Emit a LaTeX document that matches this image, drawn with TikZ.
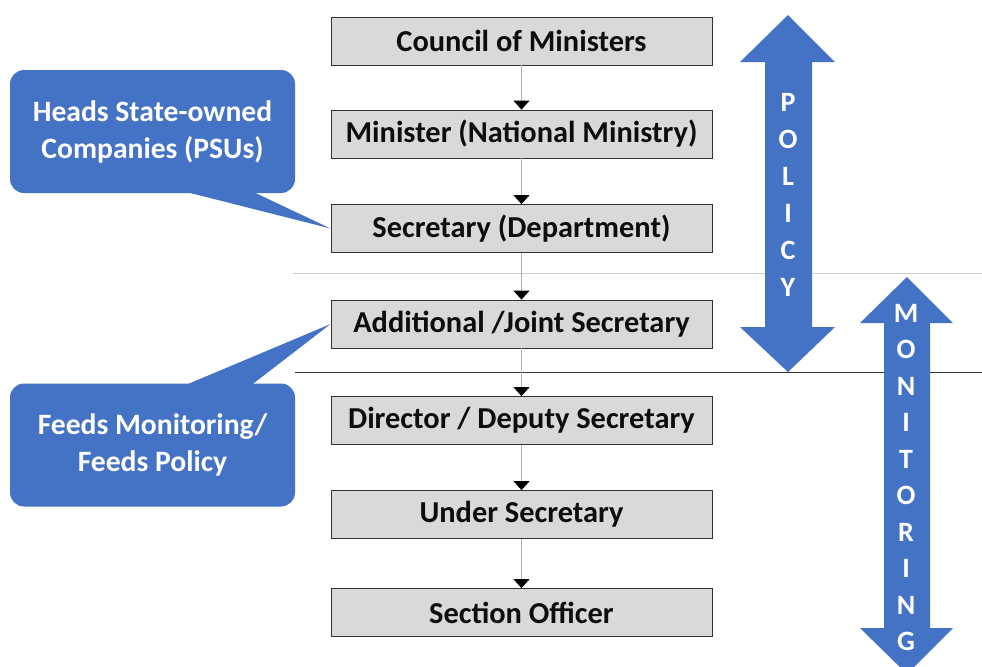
\documentclass[tikz,border=0pt]{standalone}
\usepackage{fontspec}
\setmainfont{Carlito}
\usetikzlibrary{arrows.meta}
\usetikzlibrary{calc}
\usetikzlibrary{positioning}

\definecolor{officeblue}{RGB}{68,114,196}
\definecolor{boxgray}{RGB}{217,217,217}

\tikzset{
  post/.style={draw=black!80, fill=boxgray, minimum width=190.5pt, minimum height=24pt,
    font=\fontsize{15.2}{18}\selectfont\bfseries, text=black!95},
  link/.style={draw=black!30, line width=0.4pt, -{Triangle[black,width=8pt,length=4.5pt]}},
  bubble/.style={fill=officeblue, rounded corners=7pt, text=white, align=center,
    minimum width=142.5pt, minimum height=61.5pt, font=\fontsize{14.8}{18.5}\selectfont\bfseries},
  letter/.style={text=white, inner sep=0pt, font=\fontsize{14}{14}\selectfont\bfseries},
}

\begin{document}
\begin{tikzpicture}[x=0.5pt, y=-0.5pt]
\useasboundingbox (0,0) rectangle (982,666);

% separators
\draw [black!20] (293,273) -- (982,273);
\draw [black!80] (295,372) -- (982,372);

% ranks
\node [post] (council) at (521.5,41) {Council of Ministers};
\node [post] (minister) at (521.5,134) {Minister (National Ministry)};
\node [post] (secretary) at (521.5,228.5) {Secretary (Department)};
\node [post] (joint) at (521.5,324) {Additional /Joint Secretary};
\node [post] (director) at (521.5,420.5) {Director / Deputy Secretary};
\node [post] (under) at (521.5,514.5) {Under Secretary};
\node [post] (officer) at (521.5,612.5) {Section Officer};

\draw [link] (council) -- (minister);
\draw [link] (minister) -- (secretary);
\draw [link] (secretary) -- (joint);
\draw [link] (joint) -- (director);
\draw [link] (director) -- (under);
\draw [link] (under) -- (officer);

% big arrows
\fill [officeblue] (788,15) -- (835,62) -- (812,62) -- (812,327) -- (835,327) -- (788,372)
  -- (740,327) -- (765,327) -- (765,62) -- (740,62) -- cycle;
\fill [officeblue] (907,277) -- (953,323) -- (930,323) -- (930,628) -- (953,628) -- (907,674)
  -- (860,628) -- (884,628) -- (884,323) -- (860,323) -- cycle;

\foreach \l [count=\i] in {P,O,L,I,C,Y}
  \node [letter] (pol\i) at (788,65+37*\i) {\l};
\foreach \l [count=\i] in {M,O,N,I,T,O,R,I,N,G}
  \node [letter] (mon\i) at (906,276.5+36.5*\i) {\l};

% callouts
\node [bubble] (psu) at (152.5,131.5) {Heads State-owned\\Companies (PSUs)};
\fill [officeblue] ($(psu.south)+(27.5,-3)$) -- (secretary.west) -- ($(psu.south)+(97.5,-3)$) -- cycle;

\node [bubble] (feeds) at (152.5,445) {Feeds Monitoring/\\Feeds Policy};
\fill [officeblue] ($(feeds.north)+(30.5,3)$) -- (joint.west) -- ($(feeds.north)+(97.5,3)$) -- cycle;

\end{tikzpicture}
\end{document}
